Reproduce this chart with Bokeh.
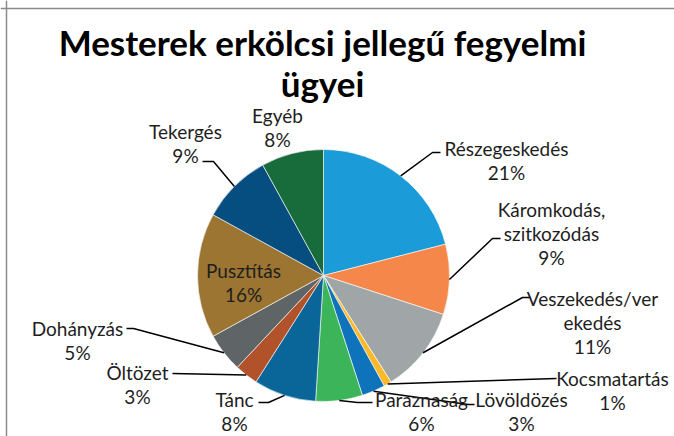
import math
from bokeh.plotting import figure
from bokeh.models import Range1d, ColumnDataSource, Span
from bokeh.core.properties import value
from bokeh.embed import file_html
from bokeh.resources import INLINE

# ---- data ----
categories = ["Részegeskedés", "Káromkodás, szitkozódás", "Veszekedés/verekedés",
              "Kocsmatartás", "Lövöldözés", "Paraznaság", "Tánc", "Öltözet",
              "Dohányzás", "Pusztítás", "Tekergés", "Egyéb"]
shares = [21, 9, 11, 1, 3, 6, 8, 3, 5, 16, 9, 8]
label_names = ["Részegeskedés", "Káromkodás,\nszitkozódás", "Veszekedés/ver\nekedés",
               "Kocsmatartás", "Lövöldözés", "Paraznaság", "Tánc", "Öltözet",
               "Dohányzás", "Pusztítás", "Tekergés", "Egyéb"]
title_lines = ["Mesterek erkölcsi jellegű fegyelmi", "ügyei"]

# ---- style / layout ----
colors = ["#1b9bd7", "#f5874a", "#a0a5a7", "#fdb92a", "#0e73bb", "#3bb45a",
          "#0a6599", "#b2522a", "#5f6567", "#9b7531", "#064d80", "#186c3c"]

W, H = 674, 436
def px(x):
    return x
def py(y):
    return H - y

CX, CY, R = 323, 275, 126  # page coords of pie centre, radius in px

label_pos = [(506, 160), (551, 233), (592, 322), (612, 390), (521, 411), (421, 411),
             (234, 411), (137, 384), (77, 340), (243, 282), (185, 143), (277, 127)]
leader_pts = [[(432, 152), (440, 152)],
              [(492, 238), (500, 238)],
              [(522, 297), (530, 297)],
              [(556, 378)],
              [(468, 404), (474, 404)],
              [(357, 402), (372, 402)],
              [(268, 402), (258, 402)],
              [(172, 373)],
              [(133, 328), (126, 328)],
              None,
              [(213, 161), (202, 161)],
              None]

p = figure(width=W, height=H, output_backend="svg", toolbar_location=None,
           x_range=Range1d(0, W), y_range=Range1d(0, H), min_border=0)
p.axis.visible = False
p.grid.visible = False
p.outline_line_color = None
p.background_fill_color = "white"
p.border_fill_color = "white"

total = sum(shares)
starts, ends, mids = [], [], []
cum = 0
for s in shares:
    a0 = math.pi / 2 - 2 * math.pi * (cum + s) / total
    a1 = math.pi / 2 - 2 * math.pi * cum / total
    starts.append(a0)
    ends.append(a1)
    mids.append((a0 + a1) / 2)
    cum += s

src = ColumnDataSource(dict(start=starts, end=ends, color=colors, name=categories))
p.wedge(x=px(CX), y=py(CY), radius=R, start_angle="start", end_angle="end",
        fill_color="color", line_color="white", line_width=0.6, source=src)

# leader lines
for i, pts in enumerate(leader_pts):
    if pts is None:
        continue
    ex = px(CX) + R * math.cos(mids[i])
    ey = py(CY) + R * math.sin(mids[i])
    xs = [ex] + [px(a) for a, b in pts]
    ys = [ey] + [py(b) for a, b in pts]
    p.line(xs, ys, line_color="black", line_width=1.5)

# labels
lx = [px(a) for a, b in label_pos]
ly = [py(b) for a, b in label_pos]
ltext = [f"{n}\n{s}%" for n, s in zip(label_names, shares)]
p.text(x=lx, y=ly, text=ltext, text_font=value("Lato"), text_font_size="19px",
       text_align="center", text_baseline="middle", text_line_height=1.06,
       text_color="#1e1e1e")

# title
p.text(x=[px(322), px(322)], y=[py(41), py(82)], text=title_lines,
       text_font=value("Lato"), text_font_style="bold", text_font_size="35px",
       text_align="center", text_baseline="middle", text_color="black")

# chart border (top and left visible in the reference)
p.add_layout(Span(location=px(6), dimension="height", line_color="#8a8a8a", line_width=1.5))
p.add_layout(Span(location=py(8), dimension="width", line_color="#8a8a8a", line_width=1.5))

open("out.html", "w").write(file_html(p, INLINE))
